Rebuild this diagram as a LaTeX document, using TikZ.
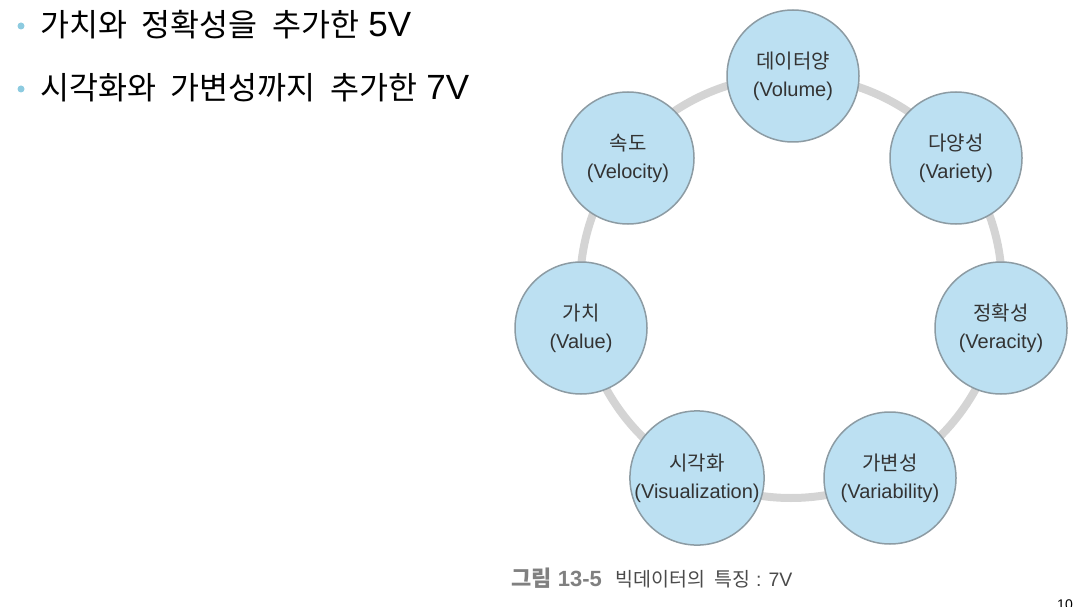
\documentclass[tikz,border=0pt]{standalone}
\usepackage{fontspec}
\setmainfont{Liberation Sans}
\newfontfamily\kr[WordSpace=2.6]{Noto Sans CJK KR}
\newfontfamily\krpoint[WordSpace=2.1]{Noto Sans CJK KR}
\usetikzlibrary{positioning}
\definecolor{ringgray}{HTML}{D4D4D4}
\definecolor{vfill}{HTML}{BCE0F2}
\definecolor{vedge}{HTML}{8C9BA3}
\definecolor{dotblue}{HTML}{8DCBE0}
\definecolor{textgray}{HTML}{333333}
\definecolor{capgray}{HTML}{808080}
\definecolor{capdark}{HTML}{4A4A4A}
\newcommand{\vcount}[1]{{\fontsize{35}{36}\selectfont #1}}
\tikzset{
  every picture/.style={line join=round, line cap=round},
  vnode/.style={circle, draw=vedge, line width=1.5pt, fill=vfill,
    minimum size=132pt, inner sep=0pt, align=center, text=textgray,
    font=\fontsize{20}{28}\selectfont},
  ring/.style={draw=ringgray, line width=8pt},
  bulletdot/.style={circle, fill=dotblue, inner sep=0pt, minimum size=7pt},
  pointtext/.style={anchor=west, inner sep=0pt, font=\fontsize{31.5}{36}\selectfont},
}

\begin{document}
\begin{tikzpicture}[x=1pt, y=-1pt]
    % Page frame
    \useasboundingbox (0,0) rectangle (1081,607);
    % Bullet points
    \node[bulletdot] (dot1) at (21,26) {};
    \node[pointtext] (pt1) at (40,25) {{\krpoint 가치와 정확성을 추가한} \vcount{5V}};
    \node[bulletdot] (dot2) at (21,89) {};
    \node[pointtext] (pt2) at (40,88) {{\krpoint 시각화와 가변성까지 추가한} \vcount{7V}};
    % Ring
    \coordinate (hub) at (791,287);
    \draw[ring] (hub) circle[radius=211];
    % Seven V's
    \node[vnode] (volume) at (793,76) {{\kr 데이터양}\\(Volume)};
    \node[vnode] (variety) at (956,158) {{\kr 다양성}\\(Variety)};
    \node[vnode] (veracity) at (1001,328) {{\kr 정확성}\\(Veracity)};
    \node[vnode] (variability) at (890,478) {{\kr 가변성}\\(Variability)};
    \node[vnode] (visualization) at (697,478) {{\kr 시각화}\\(Visualization)};
    \node[vnode] (value) at (581,328) {{\kr 가치}\\(Value)};
    \node[vnode] (velocity) at (628,158) {{\kr 속도}\\(Velocity)};
    % Caption
    \node[anchor=west, inner sep=0pt, font=\fontsize{19.5}{22}\selectfont] (caption) at (511,578)
      {\textcolor{capgray}{\fontsize{22}{24}\selectfont\bfseries{\kr 그림} 13-5}\hspace{14pt}\textcolor{capdark}{{\kr 빅데이터의 특징} : 7V}};
    % Page number
    \node[anchor=north, inner sep=0pt, font=\fontsize{14}{16}\selectfont] (pagenum) at (1065,600) {10};
\end{tikzpicture}
\end{document}
